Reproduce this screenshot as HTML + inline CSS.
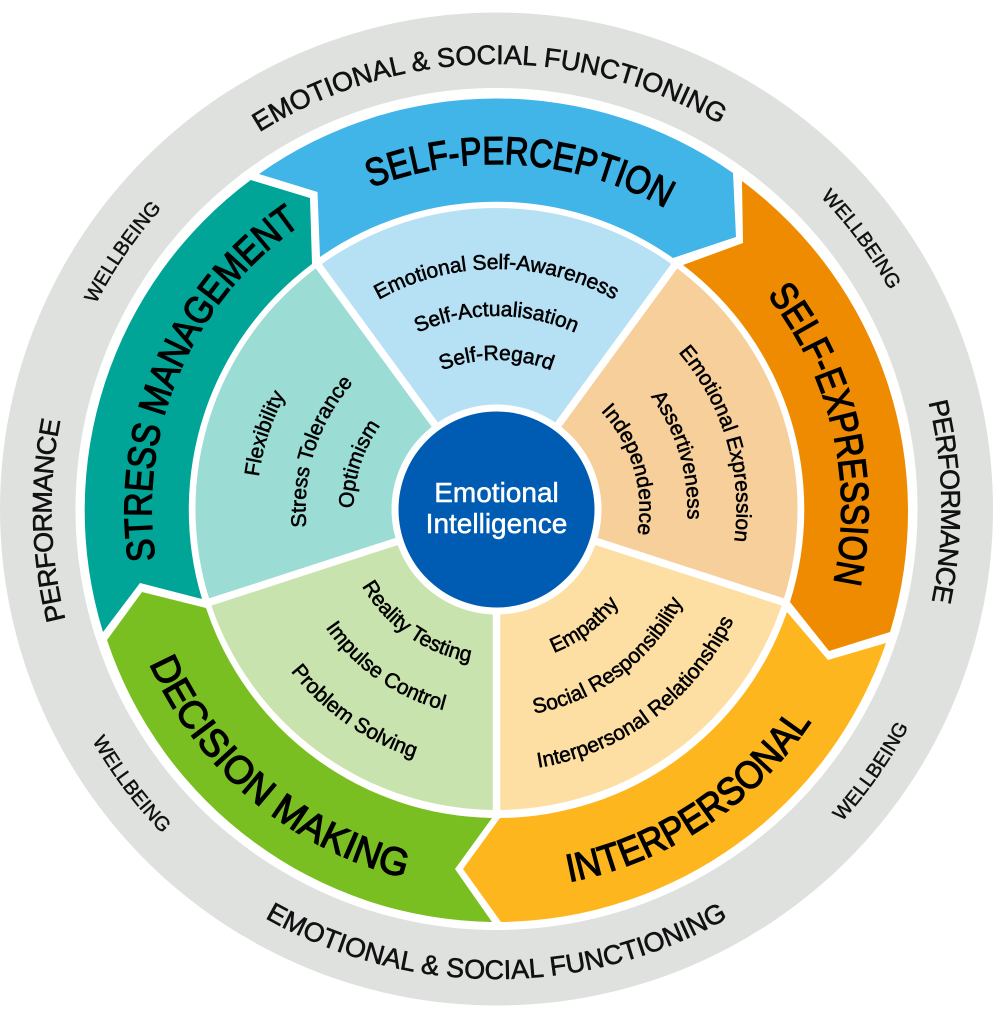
<!DOCTYPE html>
<html><head><meta charset="utf-8"><style>
html,body{margin:0;padding:0;background:#fff}
svg{display:block}
text{font-family:"Liberation Sans",sans-serif;fill:#000;text-anchor:middle}
.h{font-size:39px;stroke:#000;stroke-width:1.3px}
.o{font-size:27px;fill:#111;stroke:#111;stroke-width:.6px}
.p{font-size:27px;fill:#111;stroke:#111;stroke-width:.6px;letter-spacing:-.9px}
.w{font-size:20px;fill:#111;stroke:#111;stroke-width:.45px}
.i{font-size:21px;stroke:#000;stroke-width:.55px}
.e{font-size:28px;fill:#fff;stroke:#fff;stroke-width:.5px}
</style></head><body>
<svg width="993" height="1024" viewBox="0 0 993 1024" xmlns="http://www.w3.org/2000/svg">
<defs>
<path id="c445" d="M496.5 954A445 445 0 1 1 496.5 64A445 445 0 1 1 496.5 954"/>
<path id="c450" d="M496.5 959A450 450 0 1 1 496.5 59A450 450 0 1 1 496.5 959"/>
<path id="c345" d="M496.5 854A345 345 0 1 1 496.5 164A345 345 0 1 1 496.5 854"/>
<path id="c240" d="M496.5 749A240 240 0 1 1 496.5 269A240 240 0 1 1 496.5 749"/>
<path id="c193" d="M496.5 702A193 193 0 1 1 496.5 316A193 193 0 1 1 496.5 702"/>
<path id="c191" d="M496.5 700A191 191 0 1 1 496.5 318A191 191 0 1 1 496.5 700"/>
<path id="c149" d="M496.5 658A149 149 0 1 1 496.5 360A149 149 0 1 1 496.5 658"/>
<path id="c143" d="M496.5 652A143 143 0 1 1 496.5 366A143 143 0 1 1 496.5 652"/>
<path id="b470" d="M496.5 39A470 470 0 1 0 496.5 979A470 470 0 1 0 496.5 39"/>
<path id="b466" d="M496.5 43A466 466 0 1 0 496.5 975A466 466 0 1 0 496.5 43"/>
<path id="b380" d="M496.5 129A380 380 0 1 0 496.5 889A380 380 0 1 0 496.5 129"/>
<path id="b262" d="M496.5 247A262 262 0 1 0 496.5 771A262 262 0 1 0 496.5 247"/>
<path id="b208" d="M496.5 301A208 208 0 1 0 496.5 717A208 208 0 1 0 496.5 301"/>
<path id="b155" d="M496.5 354A155 155 0 1 0 496.5 664A155 155 0 1 0 496.5 354"/>
</defs>

<circle cx="496.5" cy="509" r="496.5" fill="#dfe1df"/>
<circle cx="496.5" cy="509" r="421" fill="#fff"/>

<path d="M259 174A412 412 0 0 1 733 173L736 237L673 258A307 307 0 0 0 320 257L317.500 192Z" fill="#41b4e8"/>
<path d="M742 181A412 412 0 0 1 890 632L829 651L790 602A307 307 0 0 0 683 265L743 243Z" fill="#ee8b00"/>
<path d="M886 643A412 412 0 0 1 501 922L463 869L500 818A307 307 0 0 0 787 612L828 660Z" fill="#fdb61e"/>
<path d="M492 922A412 412 0 0 1 107 640L142 592L206 608A307 307 0 0 0 492 818L455 869Z" fill="#7abf21"/>
<path d="M103 632A412 412 0 0 1 250.700 180L310 198L312 264A307 307 0 0 0 202 599L140 583Z" fill="#00a598"/>

<path d="M496.500 509L319.600 265.500A301 301 0 0 1 673.400 265.500Z" fill="#b6e0f4"/>
<path d="M496.500 509L673.400 265.500A301 301 0 0 1 782.800 602Z" fill="#f6cf9b"/>
<path d="M496.500 509L782.800 602A301 301 0 0 1 496.500 810Z" fill="#fddfa3"/>
<path d="M496.500 509L496.500 810A301 301 0 0 1 210.200 602Z" fill="#c9e3ae"/>
<path d="M496.500 509L210.200 602A301 301 0 0 1 319.600 265.500Z" fill="#9bdcd5"/>
<g stroke="#fff" stroke-width="7.500">
<line x1="496.500" y1="509" x2="315" y2="261"/>
<line x1="496.500" y1="509" x2="678" y2="261"/>
<line x1="496.500" y1="509" x2="789" y2="604"/>
<line x1="496.500" y1="509" x2="496.500" y2="816"/>
<line x1="496.500" y1="509" x2="204" y2="604"/>
</g>
<circle cx="496.500" cy="509.500" r="105" fill="#fff"/>
<circle cx="496.500" cy="509.500" r="98" fill="#005cb2"/>
<text class="e" x="496.500" y="502">Emotional</text>
<text class="e" x="496.500" y="533">Intelligence</text>

<g transform="rotate(-1 496.500 509)"><text class="o"><textPath href="#c445" startOffset="50%">EMOTIONAL &amp; SOCIAL FUNCTIONING</textPath></text></g>
<g><text class="o"><textPath href="#b470" startOffset="50%">EMOTIONAL &amp; SOCIAL FUNCTIONING</textPath></text></g>
<g transform="rotate(-91.500 496.500 509)"><text class="p"><textPath href="#c445" startOffset="50%">PERFORMANCE</textPath></text></g>
<g transform="rotate(89 496.500 509)"><text class="p"><textPath href="#c445" startOffset="50%">PERFORMANCE</textPath></text></g>
<g transform="rotate(-55.500 496.500 509)"><text class="w"><textPath href="#c450" startOffset="50%">WELLBEING</textPath></text></g>
<g transform="rotate(53.500 496.500 509)"><text class="w"><textPath href="#c450" startOffset="50%">WELLBEING</textPath></text></g>
<g transform="rotate(-55 496.500 509)"><text class="w"><textPath href="#b466" startOffset="50%">WELLBEING</textPath></text></g>
<g transform="rotate(53 496.500 509)"><text class="w"><textPath href="#b466" startOffset="50%">WELLBEING</textPath></text></g>

<g transform="rotate(4 496.500 509)"><text class="h"><textPath href="#c345" startOffset="50%" textLength="305" lengthAdjust="spacingAndGlyphs">SELF-PERCEPTION</textPath></text></g>
<g transform="rotate(77 496.500 509)"><text class="h"><textPath href="#c345" startOffset="50%" textLength="305" lengthAdjust="spacingAndGlyphs">SELF-EXPRESSION</textPath></text></g>
<g transform="rotate(-33.500 496.500 509)"><text class="h"><textPath href="#b380" startOffset="50%" textLength="298" lengthAdjust="spacingAndGlyphs">INTERPERSONAL</textPath></text></g>
<g transform="rotate(40 496.500 509)"><text class="h"><textPath href="#b380" startOffset="50%" textLength="345" lengthAdjust="spacingAndGlyphs">DECISION MAKING</textPath></text></g>
<g transform="rotate(-66.500 496.500 509)"><text class="h"><textPath href="#c345" startOffset="50%" textLength="385" lengthAdjust="spacingAndGlyphs">STRESS MANAGEMENT</textPath></text></g>

<text class="i"><textPath href="#c240" startOffset="50%">Emotional Self-Awareness</textPath></text>
<text class="i"><textPath href="#c193" startOffset="50%">Self-Actualisation</textPath></text>
<text class="i"><textPath href="#c149" startOffset="50%">Self-Regard</textPath></text>
<g transform="rotate(73.500 496.500 509)">
<text class="i"><textPath href="#c240" startOffset="50%">Emotional Expression</textPath></text>
<text class="i"><textPath href="#c191" startOffset="50%">Assertiveness</textPath></text>
<text class="i"><textPath href="#c143" startOffset="50%">Independence</textPath></text>
</g>
<g transform="rotate(-37 496.500 509)">
<text class="i"><textPath href="#b155" startOffset="50%">Empathy</textPath></text>
<text class="i"><textPath href="#b208" startOffset="50%">Social Responsibility</textPath></text>
<text class="i"><textPath href="#b262" startOffset="50%">Interpersonal Relationships</textPath></text>
</g>
<g transform="rotate(35 496.500 509)">
<text class="i"><textPath href="#b155" startOffset="50%">Reality Testing</textPath></text>
<text class="i"><textPath href="#b208" startOffset="50%">Impulse Control</textPath></text>
<text class="i"><textPath href="#b262" startOffset="50%">Problem Solving</textPath></text>
</g>
<g transform="rotate(-72 496.500 509)">
<text class="i"><textPath href="#c240" startOffset="50%">Flexibility</textPath></text>
<text class="i"><textPath href="#c191" startOffset="50%">Stress Tolerance</textPath></text>
<text class="i"><textPath href="#c143" startOffset="50%">Optimism</textPath></text>
</g>
</svg>
</body></html>
